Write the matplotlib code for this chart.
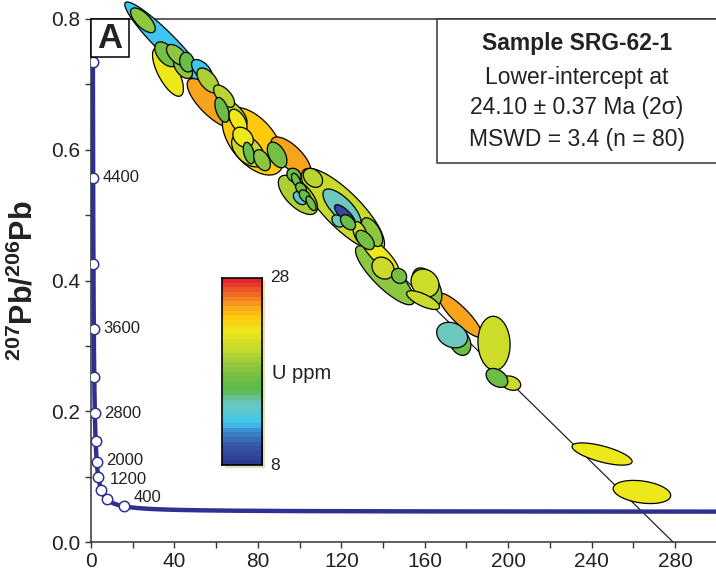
import numpy as np
import matplotlib
matplotlib.use("Agg")
import matplotlib.pyplot as plt
from matplotlib.colors import LinearSegmentedColormap
from matplotlib.patches import Rectangle

plt.rcParams['font.family'] = ['Liberation Sans', 'DejaVu Sans']
plt.rcParams['mathtext.fontset'] = 'custom'
plt.rcParams['mathtext.rm'] = 'Liberation Sans'
plt.rcParams['mathtext.bf'] = 'Liberation Sans:bold'

# analyses: 238U/206Pb, 207Pb/206Pb, 2s errors, error correlation, U ppm
ell_x = [35.5, 36.9, 58.0, 77.7, 95.9, 120.8, 140.9, 176.9, 193.2, 99.2, 120.3, 121.8,
         138.5, 75.3, 68.1, 161.1, 160.1, 159.2, 176.9, 173.1, 245.0, 264.1, 201.3, 194.6,
         24.9, 36.0, 44.1, 41.2, 46.0, 53.2, 56.1, 63.8, 62.8, 70.5, 72.9, 75.7, 82.0, 89.2, 97.3,
         100.2, 98.3, 100.7, 102.6, 105.5, 106.4, 118.4, 134.7, 129.0, 131.4, 123.2, 140.0, 147.7]
ell_y = [0.7645, 0.719, 0.671, 0.613, 0.589, 0.508, 0.408, 0.347, 0.304, 0.531, 0.511, 0.500,
         0.439, 0.599, 0.657, 0.390, 0.396, 0.370, 0.306, 0.3165, 0.1346, 0.0765, 0.243, 0.251,
         0.798, 0.746, 0.725, 0.745, 0.734, 0.722, 0.706, 0.682, 0.661, 0.644, 0.619, 0.595, 0.584, 0.592, 0.561,
         0.526, 0.5535, 0.541, 0.529, 0.518, 0.557, 0.491, 0.474, 0.4725, 0.462, 0.489, 0.419, 0.407]
ell_sx = [19.3, 7.4, 11.9, 14.7, 9.6, 19.9, 14.1, 10.5, 7.7, 9.4, 9.1, 5.0,
          9.2, 7.9, 6.7, 7.1, 6.7, 7.9, 5.2, 7.4, 14.4, 13.8, 4.7, 5.2,
          5.9, 5.4, 4.5, 5.0, 3.5, 5.0, 5.3, 5.0, 3.4, 4.3, 4.9, 2.7, 4.0, 4.7, 3.4,
          3.2, 2.2, 2.6, 2.8, 2.4, 4.6, 2.9, 5.1, 3.4, 4.4, 3.6, 5.3, 3.6]
ell_sy = [0.0615, 0.0372, 0.0379, 0.0517, 0.0305, 0.0636, 0.0451, 0.0336, 0.0413, 0.030, 0.029, 0.016,
          0.0294, 0.0252, 0.0213, 0.0293, 0.0214, 0.0143, 0.0205, 0.0196, 0.017, 0.0177, 0.011, 0.0145,
          0.0189, 0.019, 0.016, 0.016, 0.015, 0.016, 0.019, 0.017, 0.019, 0.018, 0.0155, 0.0164, 0.016, 0.0196, 0.0107,
          0.010, 0.0105, 0.0085, 0.0095, 0.011, 0.0145, 0.0093, 0.022, 0.0175, 0.0147, 0.0115, 0.0168, 0.0115]
ell_rho = [-0.938, -0.694, -0.766, -0.53, -0.70, -0.813, -0.835, -0.867, -0.05, -0.63, -0.724, -0.77,
           -0.83, -0.47, -0.67, -0.45, -0.14, -0.71, -0.254, -0.218, -0.673, -0.296, -0.25, -0.365,
           -0.68, -0.5, -0.5, -0.55, -0.15, -0.55, -0.55, -0.6, -0.48, -0.5, -0.3, -0.4, -0.4, -0.45, -0.2,
           -0.4, -0.5, -0.3, -0.4, -0.6, -0.3, -0.3, -0.54, -0.43, -0.5, -0.4, -0.18, -0.13]
ell_u = [12.3, 22.5, 25.2, 24.0, 25.2, 20.5, 18.5, 25.2, 20.8, 19.5, 14.5, 9.0,
         22.5, 20.5, 20.0, 18.5, 20.8, 20.5, 17.0, 14.5, 22.5, 22.5, 20.5, 17.0,
         18.5, 17.5, 18.5, 18.5, 17.0, 12.3, 19.5, 20.0, 17.0, 22.5, 22.5, 17.0, 18.5, 17.5, 17.0,
         13.5, 17.0, 17.5, 17.0, 17.5, 20.0, 14.5, 18.5, 20.5, 17.5, 17.0, 20.5, 17.5]

# concordia marker ages (Ma) and labelled ones
marker_ages = [400, 800, 1200, 1600, 2000, 2400, 2800, 3200, 3600, 4000, 4400, 4800]
label_ages = [400, 1200, 2000, 2800, 3600, 4400]
label_offsets = {400: (7, 6), 1200: (6, 7), 2000: (7, 1), 2800: (7, 0), 3600: (7, 0), 4400: (7, 0)}

# discordia: 207Pb/206Pb intercept and 238U/206Pb at y=0
disc_y0 = 0.873
disc_x0 = 279.0

u_min, u_max = 8, 28
cmap = LinearSegmentedColormap.from_list('uppm', [
    (0.0, '#2b3a8f'), (0.1, '#3a5ba8'), (0.175, '#3b8fcf'), (0.215, '#3ec6ef'),
    (0.325, '#6cc8c0'), (0.4, '#5cb848'), (0.45, '#6abd45'), (0.525, '#8dc63f'),
    (0.625, '#c8da2c'), (0.725, '#ede81a'), (0.8, '#ffc90e'), (0.86, '#f7a51d'),
    (0.925, '#f26a24'), (1.0, '#e3262b')])

L238 = 1.55125e-4  # per Ma
L235 = 9.8485e-4


def tw_concordia(t):
    t = np.asarray(t, dtype=float)
    e8 = np.exp(L238 * t) - 1
    e5 = np.exp(L235 * t) - 1
    return 1 / e8, e5 / e8 / 137.88


fig = plt.figure(figsize=(7.16, 5.78), dpi=100)
ax = fig.add_axes([91 / 716, 36 / 578, 625.8 / 716, 523 / 578])
ax.set_xlim(0, 300)
ax.set_ylim(0, 0.8)

# discordia line
xd = np.array([18, disc_x0])
ax.plot(xd, disc_y0 * (1 - xd / disc_x0), color='#222222', lw=0.9, zorder=2, clip_on=False)

# concordia curve
t = np.geomspace(20.5, 4800, 600)
cx, cy = tw_concordia(t)
ax.plot(cx, cy, color='#2e3192', lw=3.2, zorder=3, solid_capstyle='round')
mx, my = tw_concordia(marker_ages)
ax.plot(mx, my, 'o', ms=7.5, mfc='white', mec='#2e3192', mew=1.1, zorder=4)
for age in label_ages:
    lx, ly = tw_concordia(age)
    ax.annotate(str(age), (lx, ly), xytext=label_offsets[age], textcoords='offset points',
                ha='left', va='center', fontsize=12, color='#222222', zorder=5)

# error ellipses
tt = np.linspace(0, 2 * np.pi, 120)
for x, y, sx, sy, r, u in zip(ell_x, ell_y, ell_sx, ell_sy, ell_rho, ell_u):
    ex = x + sx * np.cos(tt)
    ey = y + sy * (r * np.cos(tt) + np.sqrt(1 - r ** 2) * np.sin(tt))
    ax.fill(ex, ey, fc=cmap((u - u_min) / (u_max - u_min)), ec='black', lw=0.9,
            zorder=6, clip_on=False)

# axes styling
for s in ['left', 'bottom', 'top']:
    ax.spines[s].set_color('#333333')
    ax.spines[s].set_linewidth(1.1)
ax.spines['right'].set_visible(False)
ax.set_xticks(np.arange(0, 281, 40))
ax.set_xticks(np.arange(20, 300, 40), minor=True)
ax.set_yticks(np.arange(0, 0.81, 0.2))
ax.set_yticks(np.arange(0.1, 0.8, 0.2), minor=True)
ax.set_yticklabels(['0.0', '0.2', '0.4', '0.6', '0.8'])
ax.tick_params(which='both', direction='out', length=4.5, width=1, color='#333333',
               labelsize=15, labelcolor='#222222', pad=3)
ax.set_ylabel(r'$\mathbf{^{207}Pb/^{206}Pb}$', fontsize=22, color='#222222')
ax.yaxis.set_label_coords(-0.082, 0.5)

# panel letter
ax.add_patch(Rectangle((0, 1 - 38 / 523), 38 / 625.8, 38 / 523, transform=ax.transAxes,
                       fc='white', ec='black', lw=1.1, zorder=7, clip_on=False))
ax.text(19 / 625.8, 1 - 19 / 523, 'A', transform=ax.transAxes, ha='center', va='center',
        fontsize=25, fontweight='bold', color='#222222', zorder=8)

# result box
ax.add_patch(Rectangle((0.553, 0.7247), 0.5, 0.2753, transform=ax.transAxes,
                       fc='white', ec='#333333', lw=1.1, zorder=7, clip_on=False))
box_lines = ['Sample SRG-62-1', 'Lower-intercept at', '24.10 ± 0.37 Ma (2σ)', 'MSWD = 3.4 (n = 80)']
box_ys = [0.954, 0.889, 0.830, 0.769]
for i, (txt, yy) in enumerate(zip(box_lines, box_ys)):
    ax.text(0.7766, yy, txt, transform=ax.transAxes, ha='center', va='center', fontsize=16.5,
            fontweight='bold' if i == 0 else 'normal', color='#222222', zorder=8)

# colour scale with a soft shadow
sax = fig.add_axes([225 / 716, (578 - 468) / 578, 40 / 716, 187 / 578])
sax.set_facecolor('#e6dfb5')
sax.set_xticks([])
sax.set_yticks([])
for s in sax.spines.values():
    s.set_visible(False)
cax = fig.add_axes([222 / 716, (578 - 465) / 578, 40 / 716, 187 / 578])
levels = np.linspace(u_min, u_max, 40)
cax.imshow(levels[:, None], origin='lower', aspect='auto', cmap=cmap,
           vmin=u_min, vmax=u_max, extent=[0, 1, u_min, u_max])
cax.set_xticks([])
cax.set_yticks([])
for s in cax.spines.values():
    s.set_linewidth(1.2)
cax.text(1.2, 1.0, '28', transform=cax.transAxes, ha='left', va='center', fontsize=12.5, color='#222222')
cax.text(1.2, 0.0, '8', transform=cax.transAxes, ha='left', va='center', fontsize=12.5, color='#222222')
cax.text(1.25, 0.49, 'U ppm', transform=cax.transAxes, ha='left', va='center', fontsize=14.5, color='#222222')

fig.savefig('out.png', dpi=100)
